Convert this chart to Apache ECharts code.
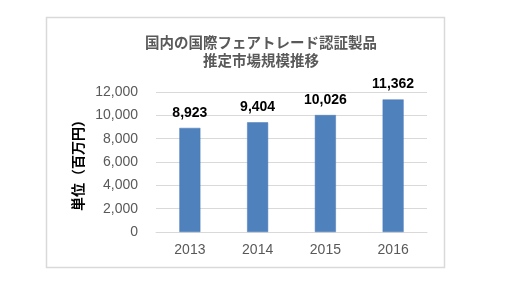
<!DOCTYPE html>
<html><head><meta charset="utf-8">
<script src="https://cdn.jsdelivr.net/npm/echarts@6/dist/echarts.min.js"></script>
<style>html,body{margin:0;padding:0;background:#fff}#c{width:510px;height:284px}</style>
</head><body><div id="c"></div>
<script>
const titleLines = ['国内の国際フェアトレード認証製品', '推定市場規模推移'];
const yAxisName = '単位（百万円）';
const categories = ['2013', '2014', '2015', '2016'];
const values = [8923, 9404, 10026, 11362];
const yMin = 0, yMax = 12000, yInterval = 2000;

const chart = echarts.init(document.getElementById('c'), null, {renderer: 'canvas'});
const fmt = v => v.toLocaleString('en-US');
chart.setOption({
  animation: false,
  backgroundColor: '#fff',
  graphic: [{
    type: 'rect', shape: {x: 46.5, y: 17.5, width: 398, height: 250},
    style: {fill: 'none', stroke: '#d9d9d9', lineWidth: 1.5}, silent: true
  }],
  title: {
    text: titleLines.join('\n'),
    left: 256, top: 28, textAlign: 'center',
    textStyle: {fontFamily: '"Noto Sans CJK JP"', fontSize: 14.5, fontWeight: 'bold', color: '#595959', lineHeight: 18}
  },
  grid: {left: 156, right: 83, top: 92, bottom: 52},
  xAxis: {
    type: 'category', data: categories,
    axisLine: {lineStyle: {color: '#d9d9d9', width: 1}},
    axisTick: {show: false},
    axisLabel: {color: '#595959', fontFamily: '"Liberation Sans", Arial', fontSize: 14, margin: 11}
  },
  yAxis: {
    type: 'value', min: yMin, max: yMax, interval: yInterval,
    name: yAxisName, nameLocation: 'middle', nameRotate: 90, nameGap: 68,
    nameTextStyle: {fontFamily: '"Noto Sans CJK JP"', fontSize: 14, fontWeight: 'bold', color: '#000'},
    axisLine: {show: false}, axisTick: {show: false},
    splitLine: {lineStyle: {color: '#d9d9d9', width: 1}},
    axisLabel: {color: '#595959', fontFamily: '"Liberation Sans", Arial', fontSize: 14, margin: 18, formatter: fmt}
  },
  series: [{
    type: 'bar', data: values, barWidth: '31%',
    itemStyle: {color: '#4f81bd', borderColor: '#4a7ab5', borderWidth: 0.5},
    label: {show: true, position: 'top', distance: 8, formatter: p => fmt(p.value),
      fontFamily: '"Liberation Sans", Arial', fontSize: 14, fontWeight: 'bold', color: '#000'}
  }]
});
</script></body></html>
